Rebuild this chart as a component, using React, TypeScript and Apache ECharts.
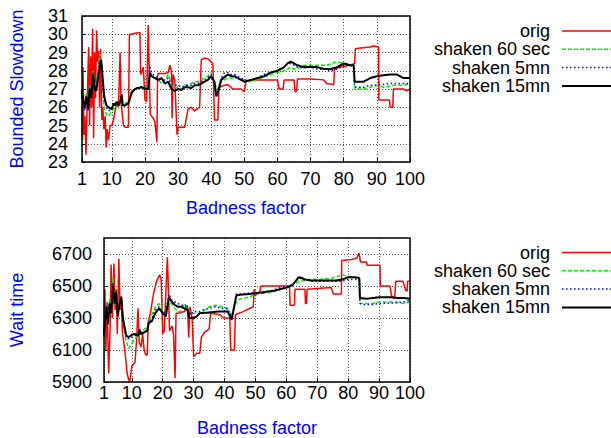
import React, { useEffect, useRef } from 'react';
import * as echarts from 'echarts';

const xTicks = [1, 10, 20, 30, 40, 50, 60, 70, 80, 90, 100];
const bsdTicks = [23, 24, 25, 26, 27, 28, 29, 30, 31];
const wtTicks = [5900, 6100, 6300, 6500, 6700];
const seriesNames = ['orig', 'shaken 60 sec', 'shaken 5mn', 'shaken 15mn'];

const bsdOrig: number[][] = [
  [1, 27], [1.15, 24.2], [1.3, 28.2], [1.6, 24.5], [1.9, 25.5], [2.2, 23.4], [2.6, 26.5], [3, 29.3], [3.3, 25], [3.6, 28.8],
  [3.9, 26], [4.2, 30.3], [4.5, 24.3], [4.8, 29], [5.1, 26.5], [5.4, 30.2], [5.7, 28.5], [6, 29.1], [6.3, 26], [6.6, 29.2],
  [7, 25.3], [7.3, 26], [7.6, 24.8], [8, 25.5], [8.3, 23.8], [8.6, 24.8], [9, 24.2], [9.5, 25], [10, 25], [10.5, 25.3],
  [11, 25.8], [11.5, 26.2], [12, 26], [12.5, 29], [12.8, 26.2], [13, 25.9], [13.5, 25], [14, 24.9], [15, 24.9], [15.3, 30],
  [16, 30], [17, 30.05], [18.5, 30.1], [18.7, 27.8], [19, 27.9], [19.5, 28.2], [20, 26.4], [20.5, 26.3], [21, 30.5], [21.3, 28],
  [21.6, 25.6], [22.5, 25.4], [23, 25.2], [23.6, 24.1], [23.8, 27.7], [24, 27.85], [26, 27.85], [27, 27.9], [27.5, 28.3], [28, 28],
  [28.2, 25.4], [28.5, 27.8], [29, 27.5], [29.7, 24.5], [30, 24.9], [32, 24.9], [33, 25.9], [34, 26], [35, 25.8], [36.5, 26],
  [37, 28.6], [38, 28.7], [39, 28.65], [40.5, 28.4], [41, 25.3], [42, 25.3], [42.3, 27], [43, 27.15], [45, 27.25], [46.5, 27.0],
  [49, 27.0], [50, 26.85], [50.5, 27.45], [55, 27.5], [60, 27.5], [60.5, 27.0], [61.7, 27.0], [62, 27.5], [65, 27.5], [65.3, 26.85],
  [65.8, 26.9], [66, 27.55], [70, 27.55], [74, 27.5], [74.8, 27.3], [77, 27.25], [77.2, 28.1], [79, 28.2], [82, 28.3], [83.3, 28.4],
  [83.5, 29.2], [85, 29.25], [88, 29.3], [89, 29.36], [90.5, 29.3], [90.6, 26.4], [93.8, 26.4], [94, 26.0], [94.8, 26.0], [95, 27.0],
  [98, 27.0], [99, 26.9], [100, 27.0],
];

const bsdShaken60: number[][] = [
  [1, 27.0], [1.4, 26.5], [1.8, 26.1], [2.3, 26.8], [2.8, 26.0], [3.3, 27.2], [3.8, 26.7], [4.3, 28.0], [4.8, 27.2], [5.3, 27.3],
  [5.9, 28.2], [6.4, 28.9], [6.8, 28.5], [7.2, 27.2], [7.7, 26.0], [8.4, 25.6], [9, 25.5], [10, 25.8], [11, 26.0], [12, 26.1],
  [13, 26.2], [14, 26.1], [15, 26.3], [16, 26.9], [17, 27.0], [18, 27.1], [19, 27.1], [20, 27.1], [21, 27.2], [21.5, 27.8],
  [22, 27.7], [23, 27.6], [24, 27.5], [25, 27.3], [26, 27.5], [27, 27.8], [28, 27.3], [29, 27.1], [30, 27.1], [31, 27.0],
  [32, 27.2], [33, 27.2], [34, 27.3], [35, 27.4], [36, 27.4], [37, 27.5], [38, 27.6], [39, 27.7], [40, 27.9], [41, 27.3],
  [42, 27.0], [43, 27.4], [44, 27.5], [45, 27.6], [47, 27.6], [48, 27.6], [50, 27.5], [52, 27.4], [55, 27.6], [58, 27.8],
  [60, 27.9], [62, 28.0], [64, 28.2], [65, 28.1], [66, 28.1], [68, 28.3], [70, 28.3], [72, 28.3], [75, 28.3], [78, 28.5],
  [80, 28.4], [83, 28.3], [83.3, 27.0], [86, 27.0], [88, 27.1], [90, 27.2], [92, 27.1], [95, 27.2], [98, 27.2], [100, 27.3],
];

const bsdShaken5: number[][] = [
  [1, 27.0], [1.4, 26.2], [1.8, 25.8], [2.3, 26.5], [2.8, 25.8], [3.3, 27.1], [3.8, 26.6], [4.3, 27.9], [4.8, 27.1], [5.3, 27.0],
  [5.9, 27.9], [6.4, 28.6], [6.8, 28.5], [7.2, 27.4], [7.7, 26.4], [8.4, 26.0], [9, 25.8], [10, 25.9], [11, 26.1], [12, 26.2],
  [13, 26.3], [14, 26.2], [15, 26.3], [16, 26.8], [17, 27.0], [18, 27.1], [19, 27.1], [20, 27.1], [21, 27.1], [21.5, 28.2],
  [22, 27.9], [23, 27.7], [24, 27.6], [25, 27.5], [26, 27.5], [27, 27.6], [28, 27.3], [29, 27.2], [30, 27.2], [31, 27.1],
  [32, 27.2], [33, 27.2], [34, 27.2], [35, 27.3], [36, 27.3], [37, 27.4], [38, 27.5], [39, 27.6], [40, 27.8], [41, 27.3],
  [41.5, 26.8], [42, 26.9], [43, 27.6], [44, 27.9], [45, 27.9], [46, 27.8], [47, 27.8], [48, 27.7], [50, 27.5], [52, 27.5],
  [54, 27.6], [56, 27.8], [58, 27.9], [60, 28.0], [62, 28.2], [63, 28.35], [64, 28.4], [65, 28.3], [66, 28.2], [68, 28.15],
  [70, 28.2], [72, 28.1], [74, 28.1], [76, 28.0], [78, 28.1], [80, 28.3], [82, 28.3], [83, 28.2], [83.3, 27.1], [84, 27.1],
  [86, 27.1], [88, 27.2], [90, 27.2], [92, 27.25], [94, 27.3], [96, 27.3], [98, 27.3], [100, 27.3],
];

const bsdShaken15: number[][] = [
  [1, 27.0], [1.4, 26.3], [1.8, 26.0], [2.3, 26.6], [2.8, 25.9], [3.3, 27.0], [3.8, 26.5], [4.3, 27.8], [4.8, 27.0], [5.3, 26.9],
  [5.9, 27.7], [6.4, 28.2], [6.8, 28.6], [7.2, 27.7], [7.7, 26.6], [8.4, 26.1], [9, 26.0], [10, 25.9], [10.5, 26.2], [11, 26.1],
  [11.5, 26.3], [12, 26.1], [12.5, 26.3], [13, 26.7], [13.3, 26.1], [14, 26.1], [15, 26.2], [15.5, 26.5], [16, 26.8], [17, 27.0],
  [18, 27.05], [19, 27.1], [20, 27.0], [21, 27.0], [21.5, 27.9], [22, 27.7], [23, 27.6], [24, 27.5], [25, 27.6], [26, 27.3],
  [27, 27.4], [28, 27.0], [29, 26.9], [30, 27.0], [31, 26.95], [32, 27.1], [33, 27.1], [34, 27.05], [35, 27.2], [36, 27.2],
  [37, 27.3], [38, 27.4], [39, 27.5], [40, 27.7], [41, 27.4], [41.5, 26.6], [42, 26.8], [43, 27.5], [44, 27.65], [45, 27.8],
  [46, 27.7], [47, 27.7], [48, 27.6], [49, 27.5], [50, 27.4], [52, 27.5], [54, 27.6], [56, 27.7], [58, 27.9], [60, 28.0],
  [62, 28.2], [63, 28.4], [64, 28.5], [65, 28.4], [66, 28.3], [68, 28.2], [70, 28.2], [72, 28.2], [74, 28.1], [76, 28.1],
  [78, 28.2], [80, 28.4], [82, 28.3], [83, 28.3], [83.3, 27.4], [84, 27.4], [86, 27.4], [88, 27.6], [90, 27.7], [92, 27.75],
  [94, 27.8], [96, 27.8], [98, 27.6], [100, 27.6],
];

const wtOrig: number[][] = [
  [1, 6180], [1.3, 6480], [1.6, 6100], [2, 6400], [2.5, 5955], [3, 6250], [3.3, 6635], [3.7, 6300], [4.2, 6640], [4.6, 6350],
  [5, 6480], [5.3, 6200], [5.8, 6670], [6.2, 6350], [6.6, 6420], [7, 6200], [7.4, 6150], [8, 6050], [8.5, 5950], [9, 5915],
  [9.3, 5900], [10, 6000], [11, 6020], [11.5, 6150], [12, 6360], [12.4, 6150], [13, 6120], [13.5, 6200], [14, 6100], [14.5, 6070],
  [15, 6070], [15.3, 6280], [16, 6330], [17, 6450], [18, 6530], [19, 6570], [19.5, 6540], [20, 6200], [20.5, 6220], [21, 6450],
  [21.5, 6680], [21.8, 6500], [22.2, 6220], [23, 6250], [23.5, 6200], [24, 5925], [24.3, 6330], [25, 6330], [27, 6340], [28, 6380],
  [28.4, 6180], [28.8, 6370], [29.5, 6300], [30, 6060], [31, 6080], [32, 6080], [32.5, 6180], [33.5, 6210], [35, 6230], [35.5, 6330],
  [38.5, 6320], [39.7, 6300], [41.7, 6300], [42, 6100], [43.2, 6100], [43.5, 6320], [46, 6340], [49.3, 6370], [49.6, 6480], [50, 6440],
  [51.5, 6470], [51.7, 6500], [61, 6500], [61.2, 6380], [62.6, 6380], [62.8, 6480], [66, 6480], [66.2, 6390], [66.5, 6390], [66.7, 6480],
  [70, 6485], [74.5, 6490], [75.2, 6450], [77.8, 6450], [77.9, 6660], [81, 6665], [82.8, 6675], [83.5, 6705], [84, 6650], [86, 6650],
  [86.1, 6630], [90.3, 6630], [90.4, 6500], [93.5, 6500], [94, 6440], [95, 6420], [95.4, 6530], [97.7, 6530], [98.7, 6470], [99.1, 6470],
  [99.2, 6530], [100, 6530],
];

const wtShaken60: number[][] = [
  [1, 6200], [1.8, 6380], [2.3, 6270], [2.8, 6420], [3.3, 6350], [3.9, 6550], [4.4, 6400], [4.9, 6470], [5.5, 6320], [6, 6400],
  [6.6, 6440], [7.1, 6300], [7.7, 6210], [8.2, 6150], [9, 6110], [10, 6140], [11, 6170], [12, 6190], [13, 6200], [14, 6230],
  [15, 6240], [15.5, 6280], [16.5, 6320], [17.6, 6370], [18.8, 6390], [20, 6350], [21, 6330], [22, 6410], [23, 6380], [24, 6360],
  [25, 6340], [26, 6340], [27, 6390], [28, 6360], [29, 6330], [30, 6330], [32, 6330], [33, 6340], [35, 6370], [37, 6380],
  [39, 6370], [41, 6360], [42.3, 6310], [43.8, 6400], [45, 6420], [48, 6430], [50, 6450], [55, 6460], [60, 6490], [63, 6520],
  [65, 6530], [67, 6540], [70, 6540], [75, 6550], [78, 6570], [80, 6560], [83.6, 6550], [83.8, 6390], [85, 6390], [88, 6390],
  [90, 6400], [95, 6400], [98, 6390], [100, 6400],
];

const wtShaken5: number[][] = [
  [1, 6200], [1.8, 6375], [2.3, 6265], [2.8, 6400], [3.3, 6340], [3.9, 6520], [4.4, 6395], [4.9, 6465], [5.5, 6315], [6, 6395],
  [6.6, 6435], [7.1, 6300], [7.7, 6230], [8.2, 6180], [9, 6170], [10, 6180], [11, 6190], [12, 6190], [13, 6210], [14, 6210],
  [15, 6230], [15.5, 6275], [16.5, 6300], [17.6, 6350], [18.8, 6370], [20, 6340], [21, 6330], [22, 6450], [23, 6410], [24, 6400],
  [25, 6390], [26, 6380], [27, 6380], [28, 6360], [29, 6320], [30, 6340], [32, 6340], [33, 6350], [35, 6360], [37, 6370],
  [39, 6360], [41, 6360], [42.3, 6300], [43.8, 6450], [45, 6450], [48, 6455], [50, 6460], [52, 6460], [55, 6470], [58, 6490],
  [60, 6495], [62, 6510], [64, 6550], [66, 6540], [68, 6530], [70, 6530], [75, 6530], [78, 6530], [80, 6540], [83.6, 6540],
  [83.8, 6390], [85, 6385], [88, 6385], [90, 6390], [95, 6395], [98, 6400], [100, 6410],
];

const wtShaken15: number[][] = [
  [1, 6200], [1.8, 6370], [2.3, 6260], [2.8, 6390], [3.3, 6330], [3.9, 6500], [4.4, 6390], [4.9, 6460], [5.5, 6310], [6, 6390],
  [6.6, 6430], [7.1, 6300], [7.7, 6240], [8.2, 6190], [9, 6180], [10, 6195], [11, 6200], [12, 6190], [12.5, 6230], [13, 6200],
  [14, 6210], [15, 6220], [15.5, 6270], [16.5, 6280], [17.6, 6330], [18.8, 6360], [20, 6330], [21, 6310], [22, 6430], [23, 6400],
  [24, 6380], [25, 6370], [26, 6370], [27, 6360], [28, 6350], [28.6, 6300], [30, 6300], [31, 6310], [32, 6330], [35, 6335],
  [38, 6340], [41, 6340], [42.3, 6290], [43.8, 6440], [45, 6445], [48, 6450], [50, 6455], [52, 6460], [54, 6465], [56, 6470],
  [58, 6480], [60, 6490], [62, 6505], [64, 6555], [65, 6550], [66, 6540], [68, 6535], [72, 6535], [76, 6535], [78, 6540],
  [80, 6555], [82, 6555], [83.6, 6550], [83.8, 6425], [86, 6420], [88, 6425], [90, 6430], [94, 6430], [96, 6425], [98, 6425],
  [100, 6420],
];

const FONT = '"Liberation Sans", Arial, Helvetica, sans-serif';
const colors = ['#ff0000', '#00f000', '#0000ff', '#000000'];
const dashes: any[] = ['solid', [4, 2], [1.5, 2.5], 'solid'];
const widths = [1.5, 1.5, 1.5, 2];

function makeAxes(grid: number, yMin: number, yMax: number, yTicks: number[], yName: string, yGap: number, yMargin: number, xMargin: number) {
  const split = { show: true, lineStyle: { color: '#555', width: 1, type: [1, 2] } };
  const x = {
    type: 'value', gridIndex: grid, min: 1, max: 100,
    name: 'Badness factor', nameLocation: 'middle', nameGap: 37,
    nameTextStyle: { color: '#0000ff', fontSize: 18, fontFamily: FONT },
    axisLine: { show: false },
    axisTick: { show: true, inside: true, length: 4, customValues: xTicks, lineStyle: { color: '#000' } },
    axisLabel: {
      customValues: xTicks, fontSize: 18, color: '#000', fontFamily: FONT, margin: xMargin,
      showMinLabel: true, showMaxLabel: true, formatter: (v: number) => String(v),
    },
    splitLine: split,
  };
  const y = {
    type: 'value', gridIndex: grid, min: yMin, max: yMax,
    name: yName, nameLocation: 'middle', nameGap: yGap, nameRotate: 90,
    nameTextStyle: { color: '#0000ff', fontSize: 18, fontFamily: FONT },
    axisLine: { show: false },
    axisTick: { show: true, inside: true, length: 4, customValues: yTicks, lineStyle: { color: '#000' } },
    axisLabel: { customValues: yTicks, fontSize: 18, color: '#000', fontFamily: FONT, margin: yMargin, formatter: (v: number) => String(v) },
    splitLine: split,
  };
  return { x, y };
}

function makeSeries(grid: number, datasets: number[][][]) {
  return datasets.map((d, i) => ({
    type: 'line', name: seriesNames[i], xAxisIndex: grid, yAxisIndex: grid, data: d,
    showSymbol: false, symbol: 'none', clip: true,
    lineStyle: { color: colors[i], width: widths[i], type: dashes[i] },
    z: 2 + i,
  }));
}

function makeLegend(yStart: number, step: number) {
  const els: any[] = [];
  seriesNames.forEach((n, i) => {
    const y = yStart + i * step;
    els.push({
      type: 'text', x: 550, y,
      style: { text: n, fill: '#000', font: `18px ${FONT}`, lineHeight: 16, textAlign: 'right', textVerticalAlign: 'middle' },
    });
    els.push({
      type: 'line', shape: { x1: 562, y1: y, x2: 625, y2: y },
      style: { stroke: colors[i], lineWidth: widths[i], lineDash: dashes[i] === 'solid' ? null : dashes[i] },
    });
  });
  return els;
}

export default function App() {
  const ref = useRef<HTMLDivElement>(null);
  useEffect(() => {
    const chart = echarts.init(ref.current!, null, { renderer: 'svg' });
    const a0 = makeAxes(0, 23, 31, bsdTicks, 'Bounded Slowdown', 56, 14, 8);
    const a1 = makeAxes(1, 5900, 6800, wtTicks, 'Wait time', 78, 12, 2);
    chart.setOption({
      animation: false,
      backgroundColor: '#fff',
      textStyle: { fontFamily: FONT },
      grid: [
        { left: 82, top: 16, width: 328, height: 146, show: true, borderColor: '#000', borderWidth: 1.5, backgroundColor: 'transparent', z: 10 },
        { left: 104, top: 238, width: 306, height: 144, show: true, borderColor: '#000', borderWidth: 1.5, backgroundColor: 'transparent', z: 10 },
      ],
      xAxis: [a0.x, a1.x],
      yAxis: [a0.y, a1.y],
      series: [
        ...makeSeries(0, [bsdOrig, bsdShaken60, bsdShaken5, bsdShaken15]),
        ...makeSeries(1, [wtOrig, wtShaken60, wtShaken5, wtShaken15]),
      ],
      graphic: [...makeLegend(31, 18.3), ...makeLegend(252.5, 18.3)],
    });
    return () => chart.dispose();
  }, []);
  return <div ref={ref} style={{ position: 'absolute', left: 0, top: 0, width: 611, height: 438 }} />;
}
